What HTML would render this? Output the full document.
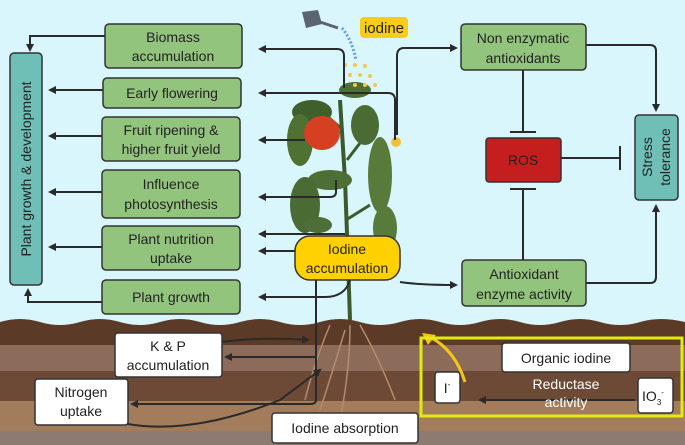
<!DOCTYPE html>
<html><head><meta charset="utf-8"><style>
html,body{margin:0;padding:0;background:#d9f6fd;}
svg{display:block;font-family:"Liberation Sans",sans-serif;}
</style></head><body>
<svg width="685" height="445" viewBox="0 0 685 445" xmlns="http://www.w3.org/2000/svg">
<defs>
<marker id="a" markerWidth="8" markerHeight="8" refX="6" refY="4" orient="auto" markerUnits="userSpaceOnUse"><path d="M0,0 L8,4 L0,8 Z" fill="#2a2a2a"/></marker>
</defs>
<rect width="685" height="445" fill="#d9f6fd"/>
<!-- soil -->
<path d="M0,322 Q20,316 40,322 T80,322 T120,322 T160,322 T200,322 T240,322 T280,322 T320,322 T360,322 T400,322 T440,322 T480,322 T520,322 T560,322 T600,322 T640,322 T685,322 V445 H0Z" fill="#5b3a28"/>
<rect x="0" y="345" width="685" height="26" fill="#8c6b5a"/>
<rect x="0" y="371" width="685" height="30" fill="#6c4a36"/>
<rect x="0" y="401" width="685" height="30" fill="#a37c5b"/>
<rect x="0" y="431" width="685" height="14" fill="#8d7a70"/>
<!-- plant -->
<g>
<path d="M350,320 L348,260 L345,180 L340,100" stroke="#3d5a2a" stroke-width="4" fill="none"/>
<path d="M346,220 L370,205 M347,160 L370,130 M343,130 L320,110" stroke="#3d5a2a" stroke-width="3" fill="none"/>
<ellipse cx="312" cy="112" rx="20" ry="12" fill="#3f5f2b"/>
<ellipse cx="300" cy="140" rx="13" ry="26" fill="#4f7233"/>
<ellipse cx="330" cy="180" rx="22" ry="10" fill="#4d6e35"/>
<ellipse cx="305" cy="205" rx="15" ry="28" fill="#4a6b33"/>
<ellipse cx="380" cy="175" rx="12" ry="38" fill="#587a3a"/>
<ellipse cx="365" cy="125" rx="14" ry="20" fill="#4a6b33"/>
<ellipse cx="355" cy="90" rx="16" ry="8" fill="#4d6e35"/>
<ellipse cx="385" cy="228" rx="12" ry="22" fill="#587a3a"/>
<ellipse cx="318" cy="225" rx="14" ry="8" fill="#4d6e35"/>
<ellipse cx="322" cy="133" rx="18" ry="17" fill="#d63f22"/>
<circle cx="396" cy="142" r="5" fill="#f3c03a"/>
<path d="M330,325 Q315,360 305,400 M350,325 Q350,370 340,420 M360,325 Q380,360 395,400 M345,330 Q330,380 320,410" stroke="#b78a6e" stroke-width="1.5" fill="none"/>
</g>
<!-- watering can -->
<path d="M302,12 L318,10 L322,24 L306,28 Z" fill="#5b6470"/>
<path d="M320,22 L338,28" stroke="#5b6470" stroke-width="3"/>
<path d="M342,28 Q352,40 356,60" stroke="#6a9be0" stroke-width="3" stroke-dasharray="2,2" fill="none"/>
<g fill="#f0c84a"><circle cx="345" cy="65" r="2"/><circle cx="355" cy="65" r="2"/><circle cx="365" cy="66" r="2"/><circle cx="350" cy="75" r="2"/><circle cx="360" cy="75" r="2"/><circle cx="370" cy="76" r="2"/><circle cx="355" cy="85" r="2"/><circle cx="365" cy="85" r="2"/><circle cx="375" cy="85" r="2"/></g>
<rect x="360" y="17" width="48" height="21" rx="4" fill="#f7cd17"/>
<text x="384" y="33" font-size="15" text-anchor="middle" fill="#222">iodine</text>

<g stroke="#2a2a2a" stroke-width="2" fill="none">
<path d="M344,88 V56 Q344,49 337,49 H260" marker-end="url(#a)"/>
<path d="M395,140 V100 Q395,93 388,93 H260" marker-end="url(#a)"/>
<path d="M305,140 H260" marker-end="url(#a)"/>
<path d="M336,180 V192 Q336,197 330,197 H260" marker-end="url(#a)"/>
<path d="M345,234 H260" marker-end="url(#a)"/>
<path d="M295,251 H260" marker-end="url(#a)"/>
<path d="M350,280 Q345,297 325,297 H260" marker-end="url(#a)"/>
<path d="M105,36 H30 V50" marker-end="url(#a)"/>
<path d="M103,90 H50" marker-end="url(#a)"/>
<path d="M102,136 H50" marker-end="url(#a)"/>
<path d="M102,192 H50" marker-end="url(#a)"/>
<path d="M102,247 H50" marker-end="url(#a)"/>
<path d="M102,302 H28 V290" marker-end="url(#a)"/>
<path d="M316,280 V400 Q316,404 310,404 H132" marker-end="url(#a)"/>
<path d="M316,357 H226" marker-end="url(#a)"/>
<path d="M175,350 Q240,335 308,340" marker-end="url(#a)"/>
<path d="M110,420 Q180,440 280,400 L320,370" marker-end="url(#a)"/>
<path d="M397,135 V56 Q397,48 404,48 H456" marker-end="url(#a)"/>
<path d="M400,282 Q420,285 456,285" marker-end="url(#a)"/>
<path d="M586,45 H650 Q656,45 656,51 V110" marker-end="url(#a)"/>
<path d="M586,283 H650 Q656,283 656,277 V206" marker-end="url(#a)"/>
<path d="M523,70 V132 M510,132 H536"/>
<path d="M523,260 V189 M510,189 H536"/>
<path d="M561,158 H620 M620,146 V170"/>
<path d="M635,400 H480" marker-end="url(#a)"/>
</g>
<path d="M465,382 Q455,350 430,337" stroke="#f5c518" stroke-width="3" fill="none"/>
<path d="M422,333 L436,335 L428,345Z" fill="#f5c518"/>

<g stroke="#333" stroke-width="1.5">
<rect x="105" y="24" width="137" height="44" rx="4" fill="#93c47d"/>
<rect x="103" y="78" width="138" height="30" rx="4" fill="#93c47d"/>
<rect x="102" y="117" width="138" height="44" rx="4" fill="#93c47d"/>
<rect x="102" y="170" width="138" height="48" rx="4" fill="#93c47d"/>
<rect x="102" y="226" width="138" height="44" rx="4" fill="#93c47d"/>
<rect x="102" y="280" width="138" height="34" rx="4" fill="#93c47d"/>
<rect x="10" y="53" width="32" height="232" rx="4" fill="#6fbfb7"/>
<rect x="461" y="24" width="125" height="46" rx="4" fill="#93c47d"/>
<rect x="462" y="260" width="124" height="46" rx="4" fill="#93c47d"/>
<rect x="486" y="138" width="75" height="44" rx="3" fill="#c41e1e"/>
<rect x="635" y="115" width="43" height="85" rx="4" fill="#6fbfb7"/>
<rect x="295" y="236" width="105" height="44" rx="15" fill="#ffd100"/>
<rect x="115" y="333" width="107" height="44" rx="3" fill="#fff"/>
<rect x="35" y="379" width="93" height="46" rx="3" fill="#fff"/>
<rect x="272" y="413" width="146" height="30" rx="3" fill="#fff"/>
<rect x="502" y="343" width="128" height="29" rx="3" fill="#fff"/>
<rect x="435" y="372" width="25" height="31" rx="3" fill="#fff"/>
<rect x="638" y="378" width="35" height="35" rx="3" fill="#fff"/>
</g>
<rect x="421" y="338" width="261" height="78" fill="none" stroke="#e2ea10" stroke-width="3"/>

<g font-size="14" fill="#222" text-anchor="middle">
<text x="173" y="42">Biomass</text><text x="173" y="61">accumulation</text>
<text x="172" y="98">Early flowering</text>
<text x="171" y="135">Fruit ripening &amp;</text><text x="171" y="154">higher fruit yield</text>
<text x="171" y="189">Influence</text><text x="171" y="209">photosynthesis</text>
<text x="171" y="244">Plant nutrition</text><text x="171" y="263">uptake</text>
<text x="171" y="302">Plant growth</text>
<text transform="translate(31,169) rotate(-90)">Plant growth &amp; development</text>
<text x="523" y="43">Non enzymatic</text><text x="523" y="63">antioxidants</text>
<text x="524" y="279">Antioxidant</text><text x="524" y="299">enzyme activity</text>
<text x="523" y="165">ROS</text>
<text transform="translate(652,157) rotate(-90)">Stress</text>
<text transform="translate(670,157) rotate(-90)">tolerance</text>
<text x="347" y="254">Iodine</text><text x="347" y="273">accumulation</text>
<text x="168" y="351">K &amp; P</text><text x="168" y="370">accumulation</text>
<text x="81" y="397">Nitrogen</text><text x="81" y="416">uptake</text>
<text x="345" y="433">Iodine absorption</text>
<text x="566" y="363">Organic iodine</text>
<text x="447" y="393">I<tspan font-size="8" dy="-6">-</tspan></text>
<text x="653" y="401">IO<tspan font-size="8" dy="4">3</tspan><tspan font-size="8" dy="-10">-</tspan></text>
<text x="566" y="389" fill="#fff">Reductase</text><text x="566" y="407" fill="#fff">activity</text>
</g>
</svg>
</body></html>
